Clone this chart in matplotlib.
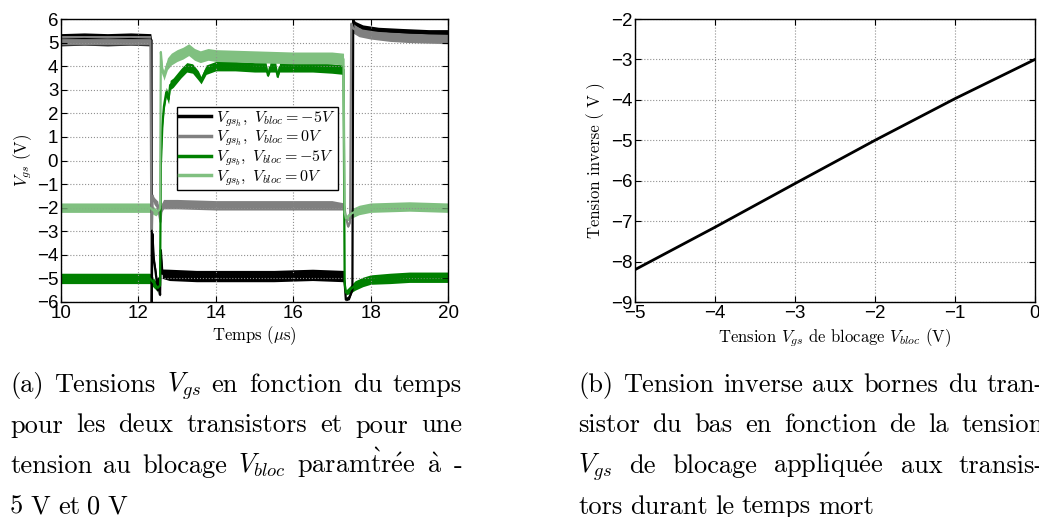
import matplotlib
matplotlib.use('Agg')
import numpy as np
import matplotlib.pyplot as plt
from matplotlib.lines import Line2D

plt.rcParams['mathtext.fontset'] = 'cm'
plt.rcParams['axes.unicode_minus'] = True

# ---- (a) oscilloscope traces: time (us), centre value (V), noise half-band (V)
t_blk = [10.0, 10.6, 11.2, 11.8, 12.32, 12.34, 12.345, 12.36, 12.40, 12.45, 12.50, 12.53, 12.56, 12.58, 12.62,
         12.8, 13.5, 14.5, 15.5, 16.5, 17.3, 17.33, 17.36, 17.45, 17.53, 17.55, 17.6, 17.8, 18.2, 18.8, 19.5, 20.0]
v_blk = [5.12, 5.15, 5.12, 5.15, 5.12, 5.1, -6.0, -3.1, -4.2, -4.8, -5.5, -5.0, -5.7, -3.8, -4.8,
         -4.85, -4.9, -4.9, -4.9, -4.85, -4.9, -5.2, -5.9, -5.8, -5.5, 5.95, 5.8, 5.6, 5.5, 5.45, 5.4, 5.4]
b_blk = [0.26, 0.26, 0.26, 0.26, 0.26, 0.03, 0.03, 0.03, 0.1, 0.2, 0.2, 0.2, 0.1, 0.03, 0.2,
         0.24, 0.24, 0.24, 0.24, 0.24, 0.24, 0.03, 0.05, 0.1, 0.03, 0.03, 0.1, 0.15, 0.15, 0.15, 0.15, 0.15]

t_gry = [10.0, 11.0, 12.0, 12.31, 12.33, 12.35, 12.37, 12.40, 12.50, 12.57, 12.60, 12.65, 13.0, 14.0, 15.0,
         16.0, 17.0, 17.32, 17.36, 17.42, 17.47, 17.50, 17.55, 17.7, 18.0, 18.5, 19.0, 20.0]
v_gry = [5.1, 5.1, 5.1, 5.1, -1.4, -2.9, -1.5, -1.7, -1.9, -2.6, -2.0, -1.85, -1.85, -1.9, -1.9,
         -1.9, -1.9, -1.95, -2.4, -2.8, -2.6, 5.8, 5.6, 5.45, 5.35, 5.25, 5.2, 5.15]
b_gry = [0.2, 0.2, 0.2, 0.2, 0.05, 0.03, 0.1, 0.15, 0.18, 0.1, 0.18, 0.2, 0.2, 0.2, 0.2,
         0.2, 0.2, 0.15, 0.1, 0.05, 0.05, 0.03, 0.2, 0.2, 0.2, 0.2, 0.2, 0.2]

t_grn = [10.0, 11.0, 12.0, 12.3, 12.4, 12.5, 12.56, 12.58, 12.62, 12.66, 12.72, 12.78, 12.82, 12.9, 13.0, 13.1,
         13.25, 13.4, 13.55, 13.62, 13.75, 14.0, 14.5, 15.0, 15.3, 15.35, 15.4, 15.55, 15.6, 15.65, 16.5, 17.0,
         17.3, 17.33, 17.36, 17.45, 17.6, 17.8, 18.0, 18.5, 19.0, 20.0]
v_grn = [-5.0, -5.0, -5.0, -5.0, -5.2, -5.4, -5.3, -0.2, 1.5, 2.3, 2.9, 2.6, 3.2, 3.3, 3.5, 3.7,
         3.95, 3.9, 3.6, 3.4, 3.85, 4.0, 4.0, 3.95, 3.95, 3.6, 3.95, 3.95, 3.55, 3.95, 3.95, 3.9,
         3.85, -5.2, -5.6, -5.5, -5.3, -5.15, -5.05, -5.0, -4.95, -4.95]
b_grn = [0.22, 0.22, 0.22, 0.22, 0.2, 0.15, 0.1, 0.03, 0.15, 0.2, 0.2, 0.2, 0.2, 0.2, 0.2, 0.2,
         0.2, 0.2, 0.2, 0.15, 0.2, 0.2, 0.2, 0.2, 0.2, 0.05, 0.2, 0.2, 0.05, 0.2, 0.2, 0.2,
         0.2, 0.03, 0.1, 0.15, 0.2, 0.2, 0.2, 0.22, 0.22, 0.22]

t_lg = [10.0, 11.0, 12.0, 12.3, 12.45, 12.54, 12.56, 12.58, 12.62, 12.66, 12.75, 12.85, 13.0, 13.15, 13.3,
        13.45, 13.6, 13.8, 14.0, 15.0, 16.0, 17.0, 17.3, 17.33, 17.36, 17.42, 17.5, 17.7, 18.0, 19.0, 20.0]
v_lg = [-2.0, -2.0, -2.0, -2.0, -2.2, -2.1, -2.0, 4.6, 3.8, 3.6, 4.1, 4.3, 4.45, 4.55, 4.7,
        4.5, 4.4, 4.5, 4.45, 4.4, 4.35, 4.35, 4.3, -2.2, -2.45, -2.4, -2.25, -2.1, -2.0, -1.95, -2.0]
b_lg = [0.2, 0.2, 0.2, 0.2, 0.15, 0.1, 0.03, 0.03, 0.15, 0.2, 0.25, 0.25, 0.25, 0.25, 0.25,
        0.25, 0.25, 0.25, 0.25, 0.25, 0.25, 0.25, 0.25, 0.03, 0.1, 0.15, 0.2, 0.2, 0.2, 0.2, 0.2]

labels_a = [r'$V_{gs_h},\ V_{bloc}=-5V$', r'$V_{gs_h},\ V_{bloc}=0V$',
            r'$V_{gs_b},\ V_{bloc}=-5V$', r'$V_{gs_b},\ V_{bloc}=0V$']
colors_a = ['#000000', '#808080', '#008000', '#80c080']

# ---- (b) reverse voltage vs blocking voltage
vbloc = [-5, -4, -3, -2, -1, 0]
vinv = [-8.2, -7.15, -6.07, -5.0, -3.97, -3.0]

cap_a = [["(a)", "Tensions", r"$V_{gs}$", "en", "fonction", "du", "temps"],
         ["pour", "les", "deux", "transistors", "et", "pour", "une"],
         ["tension", "au", "blocage", r"$V_{bloc}$", r"param$\mathrm{\grave{t}r\acute{e}e}$", r"$\mathrm{\grave{a}}$", "-"],
         ["5", "V", "et", "0", "V"]]
cap_b = [["(b)", "Tension", "inverse", "aux", "bornes", "du", "tran-"],
         ["sistor", "du", "bas", "en", "fonction", "de", "la", "tension"],
         [r"$V_{gs}$", "de", "blocage", r"appliqu$\mathrm{\acute{e}}$e", "aux", "transis-"],
         ["tors", "durant", "le", "temps", "mort"]]

W, H = 1039, 517
fig = plt.figure(figsize=(W / 100, H / 100), dpi=100)
tick_font = 'Liberation Sans'
serif = ['cmr10', 'DejaVu Serif']


def style_axes(ax):
    ax.grid(True, linestyle=':', color='#909090', linewidth=0.8)
    ax.tick_params(direction='in', top=True, right=True, length=4, pad=2, labelsize=13.5)
    for lab in ax.get_xticklabels() + ax.get_yticklabels():
        lab.set_fontfamily(tick_font)
    for s in ax.spines.values():
        s.set_linewidth(1.0)


ax1 = fig.add_axes([61 / W, 1 - 302 / H, 387 / W, 283 / H])
for t, v, b, c in [(t_blk, v_blk, b_blk, colors_a[0]), (t_gry, v_gry, b_gry, colors_a[1]),
                   (t_grn, v_grn, b_grn, colors_a[2]), (t_lg, v_lg, b_lg, colors_a[3])]:
    t, v, b = np.array(t), np.array(v), np.array(b)
    ax1.fill_between(t, v - b, v + b, color=c, linewidth=0)
    ax1.plot(t, v, color=c, linewidth=1.6)
ax1.set_xlim(10, 20)
ax1.set_ylim(-6, 6)
ax1.set_xticks(range(10, 21, 2))
ax1.set_yticks(range(-6, 7))
style_axes(ax1)
ax1.set_xlabel(r'Temps ($\mu$s)', family=serif, fontsize=12, labelpad=2)
ax1.set_ylabel(r'$V_{gs}$ (V)', family=serif, fontsize=12, labelpad=2)
handles = [Line2D([], [], color=c, linewidth=2.5) for c in colors_a]
leg = ax1.legend(handles, labels_a, loc='upper left', bbox_to_anchor=(0.30, 0.69), fontsize=11.5,
                 fancybox=False, framealpha=1, edgecolor='black', borderpad=0.15, labelspacing=0.0,
                 handlelength=2.0, handletextpad=0.3, borderaxespad=0)
leg.get_frame().set_linewidth(1.0)

ax2 = fig.add_axes([635 / W, 1 - 302 / H, 400 / W, 283 / H])
ax2.plot(vbloc, vinv, color='black', linewidth=2)
ax2.set_xlim(-5, 0)
ax2.set_ylim(-9, -2)
ax2.set_xticks(range(-5, 1))
ax2.set_yticks(range(-9, -1))
style_axes(ax2)
ax2.set_xlabel(r'Tension $V_{gs}$ de blocage $V_{bloc}$ (V)', family=serif, fontsize=12, labelpad=3)
ax2.set_ylabel('Tension inverse ( V )', family=serif, fontsize=12, labelpad=4)

# ---- justified captions
renderer = fig.canvas.get_renderer()


def caption(lines, x0, x1, y0, dy, fs=19):
    for i, words in enumerate(lines):
        y = y0 + i * dy
        texts = [fig.text(0, 1 - y / H, w, family=serif, fontsize=fs, va='baseline') for w in words]
        widths = [tx.get_window_extent(renderer).width for tx in texts]
        if i == len(lines) - 1:
            gap = 0.28 * fs * 100 / 72
        else:
            gap = (x1 - x0 - sum(widths)) / (len(words) - 1)
        x = x0
        for tx, w in zip(texts, widths):
            tx.set_x(x / W)
            x += w + gap


caption(cap_a, 10, 462, 392, 40.5)
caption(cap_b, 578, 1044, 392, 40.5)

fig.savefig('out.png', dpi=100)
